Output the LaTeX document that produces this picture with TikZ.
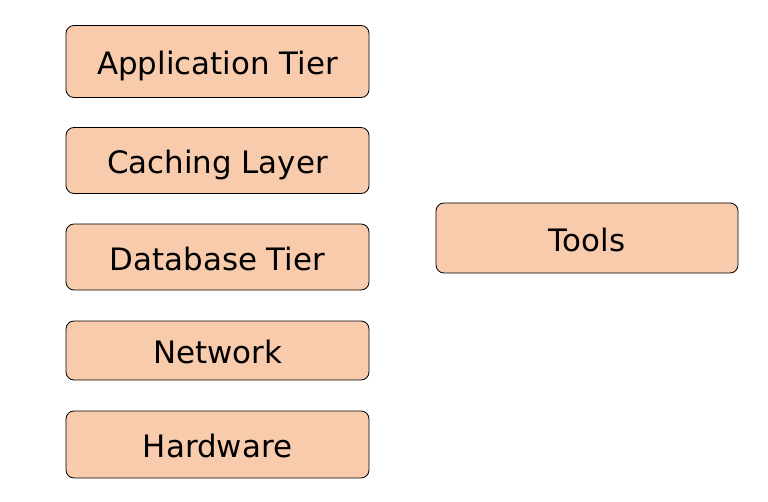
\documentclass[tikz,border=0pt]{standalone}
\usepackage{fontspec}
\setmainfont{DejaVu Sans}
\begin{document}
\begin{tikzpicture}[x=1bp,y=-1bp,
  tier/.style={draw=black, line width=0.8bp, fill=boxfill, rounded corners=8bp, inner sep=0pt,
    font=\fontsize{31}{36}\selectfont, text height=26.5pt, text depth=0pt},
]
\definecolor{boxfill}{HTML}{F8CBAD}
\useasboundingbox (0,0) rectangle (768,502);
\node[tier, minimum width=303bp, minimum height=72bp] (app) at (217.5,61.5) {Application Tier};
\node[tier, minimum width=303bp, minimum height=66bp] (cache) at (217.5,160.5) {Caching Layer};
\node[tier, minimum width=303bp, minimum height=66bp] (db) at (217.5,257) {Database Tier};
\node[tier, minimum width=303bp, minimum height=59bp] (net) at (217.5,350.5) {Network};
\node[tier, minimum width=303bp, minimum height=67bp] (hw) at (217.5,444.5) {Hardware};
\node[tier, minimum width=302bp, minimum height=70bp] (tools) at (587,238) {Tools};
\end{tikzpicture}
\end{document}
